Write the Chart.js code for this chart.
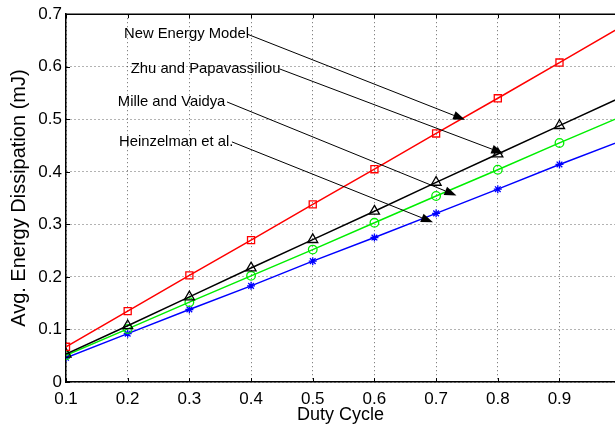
<!DOCTYPE html>
<html>
<head>
<meta charset="utf-8">
<script src="https://cdn.jsdelivr.net/npm/chart.js@4/dist/chart.umd.min.js"></script>
<style>
  html, body { margin: 0; padding: 0; background: #fff; }
  #wrap { width: 615px; height: 429px; }
</style>
</head>
<body>
<div id="wrap"><canvas id="dissipationChart" width="615" height="429"></canvas></div>
<script>
const dutyCycle = [0.1, 0.2, 0.3, 0.4, 0.5, 0.6, 0.7, 0.8, 0.9, 1.0];
const newEnergyModel = [0.067, 0.135, 0.203, 0.270, 0.338, 0.405, 0.473, 0.540, 0.608, 0.676];
const zhuPapavassiliou = [0.053, 0.107, 0.162, 0.217, 0.271, 0.325, 0.380, 0.434, 0.488, 0.542];
const milleVaidya = [0.051, 0.101, 0.152, 0.202, 0.252, 0.303, 0.354, 0.404, 0.455, 0.505];
const heinzelman = [0.046, 0.092, 0.138, 0.183, 0.230, 0.275, 0.321, 0.367, 0.414, 0.459];
const xTicks = [0.1, 0.2, 0.3, 0.4, 0.5, 0.6, 0.7, 0.8, 0.9];
const yTicks = [0, 0.1, 0.2, 0.3, 0.4, 0.5, 0.6, 0.7];
const labelNames = ["New Energy Model", "Zhu and Papavassiliou", "Mille and Vaidya", "Heinzelman et al."];

const FONT = "'Liberation Sans', Arial, Helvetica, sans-serif";

function toPoints(values) {
    return dutyCycle.map((x, i) => ({ x: x, y: values[i] }));
}

function series(label, values, color, style, radius) {
    return {
        label: label,
        data: toPoints(values),
        borderColor: color,
        backgroundColor: color,
        borderWidth: 1.5,
        pointStyle: style,
        pointRadius: radius,
        pointBorderColor: color,
        pointBackgroundColor: 'rgba(0,0,0,0)',
        pointBorderWidth: 1.3,
        tension: 0
    };
}

// text position, line start (end of text) and arrow tip, in data units
const callouts = [
    { text: labelNames[0], x: 0.194, y: 0.662, from: [0.394, 0.662], to: [0.747, 0.499] },
    { text: labelNames[1], x: 0.205, y: 0.596, from: [0.446, 0.596], to: [0.809, 0.435] },
    { text: labelNames[2], x: 0.184, y: 0.533, from: [0.361, 0.533], to: [0.733, 0.355] },
    { text: labelNames[3], x: 0.186, y: 0.457, from: [0.369, 0.457], to: [0.695, 0.304] }
];

const framePlugin = {
    id: 'frame',
    beforeDatasetsDraw(chart) {
        const { ctx, chartArea: a, scales } = chart;
        ctx.save();
        ctx.strokeStyle = '#000';
        ctx.lineWidth = 1.5;
        ctx.beginPath();
        ctx.moveTo(a.left, a.top);
        ctx.lineTo(a.right, a.top);
        ctx.stroke();
        ctx.lineWidth = 1;
        ctx.beginPath();
        xTicks.forEach(v => {
            const px = Math.round(scales.x.getPixelForValue(v)) + 0.5;
            ctx.moveTo(px, a.top); ctx.lineTo(px, a.top + 4);
            ctx.moveTo(px, a.bottom); ctx.lineTo(px, a.bottom - 4);
        });
        yTicks.forEach(v => {
            const py = Math.round(scales.y.getPixelForValue(v)) + 0.5;
            ctx.moveTo(a.left, py); ctx.lineTo(a.left + 4, py);
        });
        ctx.stroke();
        ctx.restore();
    },
    afterDatasetsDraw(chart) {
        const { ctx, scales } = chart;
        const sx = v => scales.x.getPixelForValue(v);
        const sy = v => scales.y.getPixelForValue(v);
        ctx.save();
        ctx.fillStyle = '#000';
        ctx.strokeStyle = '#000';
        ctx.font = '14.8px ' + FONT;
        ctx.textBaseline = 'middle';
        ctx.textAlign = 'left';
        callouts.forEach(c => {
            ctx.fillText(c.text, sx(c.x), sy(c.y));
            const x0 = sx(c.from[0]), y0 = sy(c.from[1]);
            const x1 = sx(c.to[0]), y1 = sy(c.to[1]);
            const ang = Math.atan2(y1 - y0, x1 - x0);
            const len = 12, half = 4.5;
            const bx = x1 - len * Math.cos(ang), by = y1 - len * Math.sin(ang);
            ctx.lineWidth = 1;
            ctx.beginPath();
            ctx.moveTo(x0, y0);
            ctx.lineTo(bx, by);
            ctx.stroke();
            ctx.beginPath();
            ctx.moveTo(x1, y1);
            ctx.lineTo(bx + half * Math.sin(ang), by - half * Math.cos(ang));
            ctx.lineTo(bx - half * Math.sin(ang), by + half * Math.cos(ang));
            ctx.closePath();
            ctx.fill();
        });
        ctx.restore();
    }
};

const gridStyle = {
    color: 'rgba(0,0,0,0.6)',
    lineWidth: 1,
    drawTicks: false
};

const ctx = document.getElementById('dissipationChart').getContext('2d');
const dissipationChart = new Chart(ctx, {
    type: 'line',
    data: {
        datasets: [
            series(labelNames[0], newEnergyModel, '#ff0000', 'rect', 5),
            series(labelNames[1], zhuPapavassiliou, '#000000', 'triangle', 5.8),
            series(labelNames[2], milleVaidya, '#00ee00', 'circle', 4.3),
            series(labelNames[3], heinzelman, '#0000ff', 'star', 4)
        ]
    },
    options: {
        responsive: false,
        animation: false,
        layout: { autoPadding: false, padding: { top: 13, right: 0, left: 0, bottom: 0 } },
        plugins: { legend: { display: false }, tooltip: { enabled: false } },
        scales: {
            x: {
                type: 'linear',
                min: 0.1,
                max: 0.99,
                afterBuildTicks: s => { s.ticks = xTicks.map(v => ({ value: v })); },
                afterFit: s => { s.height = 47; s.paddingLeft = 0; s.paddingRight = 0; },
                grid: gridStyle,
                border: { display: true, color: '#000', width: 1.5, dash: [1, 3] },
                ticks: {
                    color: '#000',
                    padding: 7,
                    font: { family: FONT, size: 17 },
                    maxRotation: 0,
                    callback: v => v.toFixed(1)
                },
                title: {
                    display: true,
                    text: 'Duty Cycle',
                    color: '#000',
                    font: { family: FONT, size: 18 },
                    padding: { top: 0, bottom: 3 }
                }
            },
            y: {
                type: 'linear',
                min: 0,
                max: 0.7,
                afterBuildTicks: s => { s.ticks = yTicks.map(v => ({ value: v })); },
                afterFit: s => { s.width = 66; },
                grid: gridStyle,
                border: { display: true, color: '#000', width: 1.5, dash: [1, 3] },
                ticks: {
                    color: '#000',
                    padding: 4,
                    font: { family: FONT, size: 17 },
                    callback: v => v === 0 ? '0' : v.toFixed(1)
                },
                title: {
                    display: true,
                    text: 'Avg. Energy Dissipation (mJ)',
                    color: '#000',
                    font: { family: FONT, size: 20 },
                    padding: { top: 7, bottom: 0 }
                }
            }
        }
    },
    plugins: [framePlugin]
});
</script>
</body>
</html>
